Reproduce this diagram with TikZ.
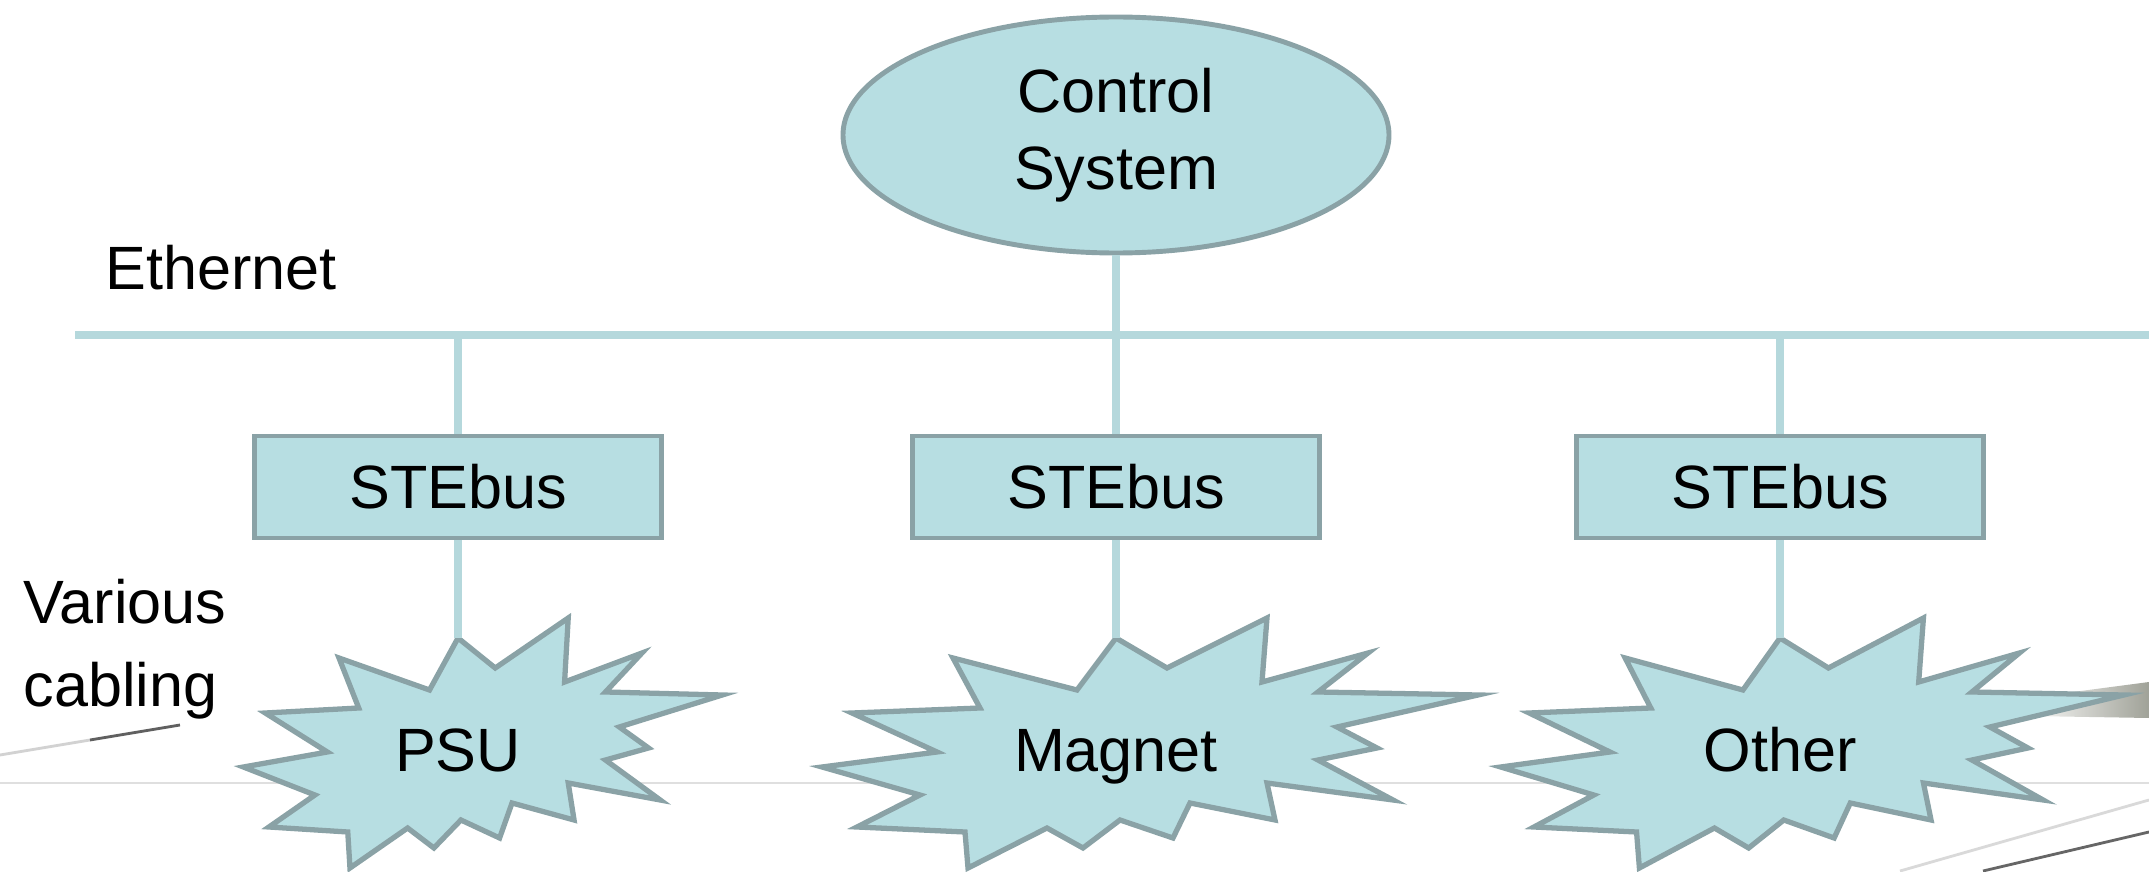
\documentclass[tikz,border=0pt]{standalone}
\usepackage{fontspec}
\setmainfont{Liberation Sans}
\usetikzlibrary{shapes.geometric}
\definecolor{boxfill}{RGB}{183,222,226}
\definecolor{boxline}{RGB}{138,162,166}
\definecolor{wirecol}{RGB}{181,216,220}
\definecolor{bandcol}{RGB}{160,162,152}
\tikzset{
  lbl/.style={font=\fontsize{17.4}{22}\selectfont, inner sep=0pt},
  wire/.style={draw=wirecol, line width=2.3pt},
  busbox/.style={lbl, draw=boxline, fill=boxfill, line width=1.4pt, minimum width=4.07cm, minimum height=1.02cm},
  burst/.style={draw=boxline, fill=boxfill, line width=1.5pt, line join=miter},
}
\begin{document}
\begin{tikzpicture}
    \useasboundingbox (0,0) rectangle (21.49,8.71);
    \clip (0,0) rectangle (21.49,8.71);
    % slide decoration
    \draw[gray!25, line width=0.6pt] (0,0.88) -- (21.49,0.88);
    \draw[gray!35, line width=0.8pt] (0,1.16) -- (0.9,1.31);
    \draw[gray!75!black, line width=0.8pt] (0.9,1.31) -- (1.80,1.46);
    \draw[gray!30, line width=0.8pt] (19.0,0) -- (21.49,0.71);
    \draw[gray!80!black, line width=0.8pt] (19.83,0) -- (21.49,0.39);
    \shade[left color=white, right color=bandcol] (20.2,1.72) -- (21.49,1.89) -- (21.49,1.53) -- (20.3,1.55) -- cycle;
    % top
    \node[lbl, ellipse, draw=boxline, fill=boxfill, line width=1.4pt, minimum width=5.46cm, minimum height=2.36cm, align=center] (ctrl) at (11.16,7.36) {Control\\System};
    \node[lbl, anchor=west] (eth) at (1.05,6.03) {Ethernet};
    \path (0.75,5.36) coordinate (ethL) (21.49,5.36) coordinate (ethR);
    \draw[wire] (ethL) -- (ethR);
    \node[lbl, font=\fontsize{17.4}{23.5}\selectfont, align=left, anchor=west] (cabling) at (0.23,2.22) {Various\\cabling};
    % boxes and devices
    \foreach \n/\px/\s/\t in {psu/4.58/0.73/PSU, magnet/11.16/1/Magnet, other/17.80/0.95/Other}{
      \coordinate (\n-tap) at (\px,5.36);
      \node[busbox] (\n-bus) at (\px,3.84) {STEbus};
      \begin{scope}[shift={(\px,1.21)}, xscale=\s]
        \draw[burst] (0,1.12) -- (0.51,0.82) -- (1.51,1.32) -- (1.46,0.68) -- (2.52,0.97) -- (2.02,0.58)
          -- (3.62,0.55) -- (2.21,0.23) -- (2.61,0.02) -- (2.02,-0.10) -- (2.77,-0.50) -- (1.51,-0.33)
          -- (1.59,-0.70) -- (0.74,-0.53) -- (0.57,-0.88) -- (0.04,-0.70) -- (-0.33,-0.98) -- (-0.69,-0.78)
          -- (-1.48,-1.18) -- (-1.51,-0.82) -- (-2.59,-0.77) -- (-1.96,-0.45) -- (-2.94,-0.17) -- (-1.79,-0.02)
          -- (-2.64,0.37) -- (-1.36,0.42) -- (-1.63,0.92) -- (-0.39,0.60) -- cycle;
        \coordinate (\n-top) at (0,1.12);
      \end{scope}
      \node[lbl, anchor=base] (\n) at (\px,1.00) {\t};
      \draw[wire] (\n-tap) -- (\n-bus.north);
      \draw[wire] (\n-bus.south) -- (\n-top);
    }
    \draw[wire] (ctrl.south) -- (magnet-tap);
\end{tikzpicture}
\end{document}
